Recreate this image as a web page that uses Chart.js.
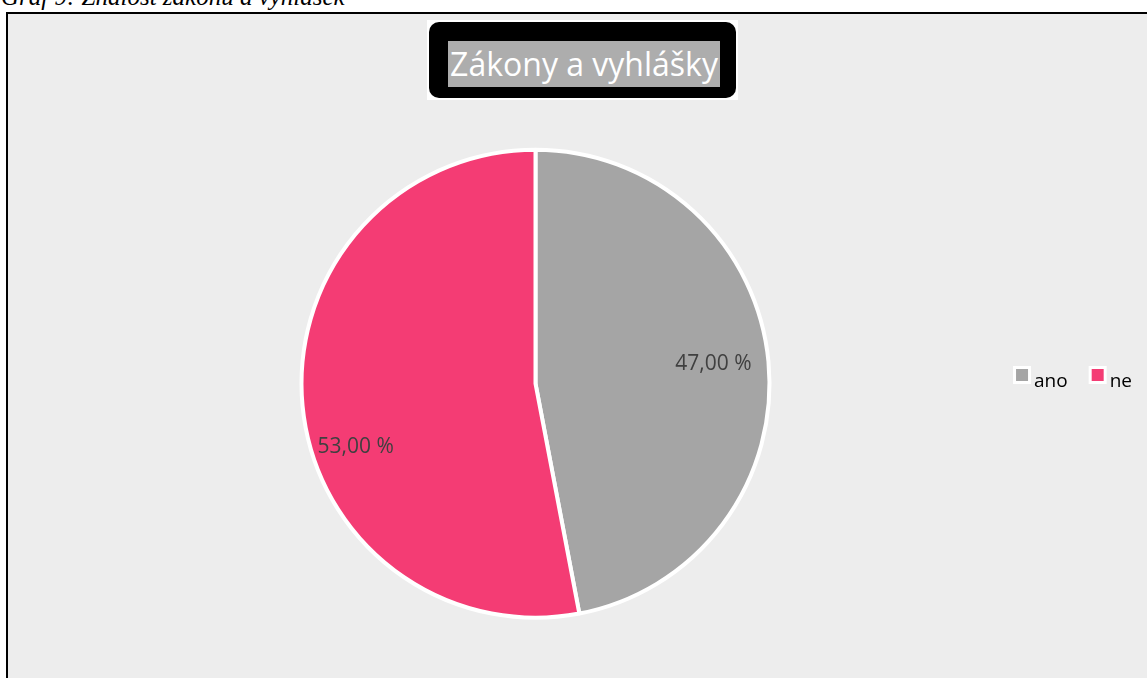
<!DOCTYPE html>
<html lang="cs">
<head>
<meta charset="utf-8">
<title>Zákony a vyhlášky</title>
<script src="https://cdn.jsdelivr.net/npm/chart.js@4.4.1/dist/chart.umd.min.js"></script>
<style>
  html, body { margin: 0; padding: 0; background: #fff; }
  body { width: 1147px; height: 678px; overflow: hidden; position: relative; }
  /* popisek grafu nad rámečkem */
  .popisek {
    position: absolute; left: 1px; top: -16px;
    font: italic 25px "Liberation Serif", "Times New Roman", serif;
    line-height: 25px; color: #000; white-space: nowrap;
  }
  .ramecek {
    position: absolute; left: 6px; top: 12px;
    width: 1160px; height: 700px;
    border: 2px solid #000; background: #ededed;
  }
  #graf { position: absolute; left: 0; top: 0; }
  /* nadpis v černém rámečku */
  .nadpis {
    position: absolute; left: 427px; top: 20px;
    width: 311px; height: 80px; background: #fff;
  }
  .nadpis .cerny {
    position: absolute; left: 2px; top: 2px; right: 2px; bottom: 2px;
    background: #000; border-radius: 10px;
  }
  .nadpis span {
    position: absolute; left: 21px; top: 21px; width: 272px; height: 46px;
    background: #adadad; color: #fff; text-align: center;
    font: 32px "Open Sans", sans-serif; line-height: 46px; white-space: nowrap;
  }
</style>
</head>
<body>
<div class="popisek">Graf 9: Znalost zákonů a vyhlášek</div>
<div class="ramecek"><canvas id="graf" width="1139" height="664"></canvas></div>
<div class="nadpis"><div class="cerny"></div><span>Zákony a vyhlášky</span></div>
<script>
// Data
const kategorie = ["ano", "ne"];
const hodnoty = [47, 53];
const barvy = ["#a5a5a5", "#f43c74"];

// umístění popisků hodnot (posun úhlu ve stupních, podíl poloměru)
const umisteniPopisku = [
    { posun: -0.9, podil: 0.765 },
    { posun: -14, podil: 0.815 },
];

function formatProcent(v) {
    return v.toFixed(2).replace(".", ",") + " %";
}

// popisky hodnot uvnitř výsečí
const popiskyHodnot = {
    id: "popiskyHodnot",
    afterDatasetsDraw(chart) {
        const ctx = chart.ctx;
        const oblouky = chart.getDatasetMeta(0).data;
        ctx.save();
        ctx.font = '21px "Open Sans", sans-serif';
        ctx.fillStyle = "#404040";
        ctx.textAlign = "center";
        ctx.textBaseline = "middle";
        oblouky.forEach((arc, i) => {
            const u = umisteniPopisku[i];
            const stred = (arc.startAngle + arc.endAngle) / 2 + (u.posun * Math.PI) / 180;
            const r = arc.outerRadius * u.podil;
            ctx.fillText(
                formatProcent(chart.data.datasets[0].data[i]),
                arc.x + Math.cos(stred) * r,
                arc.y + Math.sin(stred) * r
            );
        });
        ctx.restore();
    },
};

// legenda vpravo, položky vedle sebe
const legendaVpravo = {
    id: "legendaVpravo",
    afterDraw(chart) {
        const ctx = chart.ctx;
        const popisky = chart.data.labels;
        const vybarveni = chart.data.datasets[0].backgroundColor;
        ctx.save();
        ctx.font = '19px "Open Sans", sans-serif';
        ctx.textBaseline = "alphabetic";
        const sirky = popisky.map((t) => ctx.measureText(t).width);
        let celkem = 0;
        sirky.forEach((w, i) => {
            celkem += 18 + 3 + w + (i < sirky.length - 1 ? 21 : 0);
        });
        let x = 1124 - celkem;
        const y = 352;
        popisky.forEach((t, i) => {
            ctx.fillStyle = "#ffffff";
            ctx.fillRect(x, y, 18, 18);
            ctx.fillStyle = vybarveni[i];
            ctx.fillRect(x + 3, y + 3, 12, 12);
            ctx.fillStyle = "#000000";
            ctx.fillText(t, x + 21, y + 21);
            x += 18 + 3 + sirky[i] + 21;
        });
        ctx.restore();
    },
};

const ctx = document.getElementById("graf").getContext("2d");
const chart = new Chart(ctx, {
    type: "pie",
    data: {
        labels: kategorie,
        datasets: [
            {
                data: hodnoty,
                backgroundColor: barvy,
                borderColor: "#ffffff",
                borderWidth: 4,
                hoverOffset: 0,
            },
        ],
    },
    options: {
        responsive: false,
        animation: false,
        layout: {
            padding: { left: 291.5, top: 133.7, right: 375.5, bottom: 58.3 },
        },
        plugins: {
            legend: { display: false },
            tooltip: { enabled: false },
            title: { display: false },
        },
    },
    plugins: [popiskyHodnot, legendaVpravo],
});
</script>
</body>
</html>
